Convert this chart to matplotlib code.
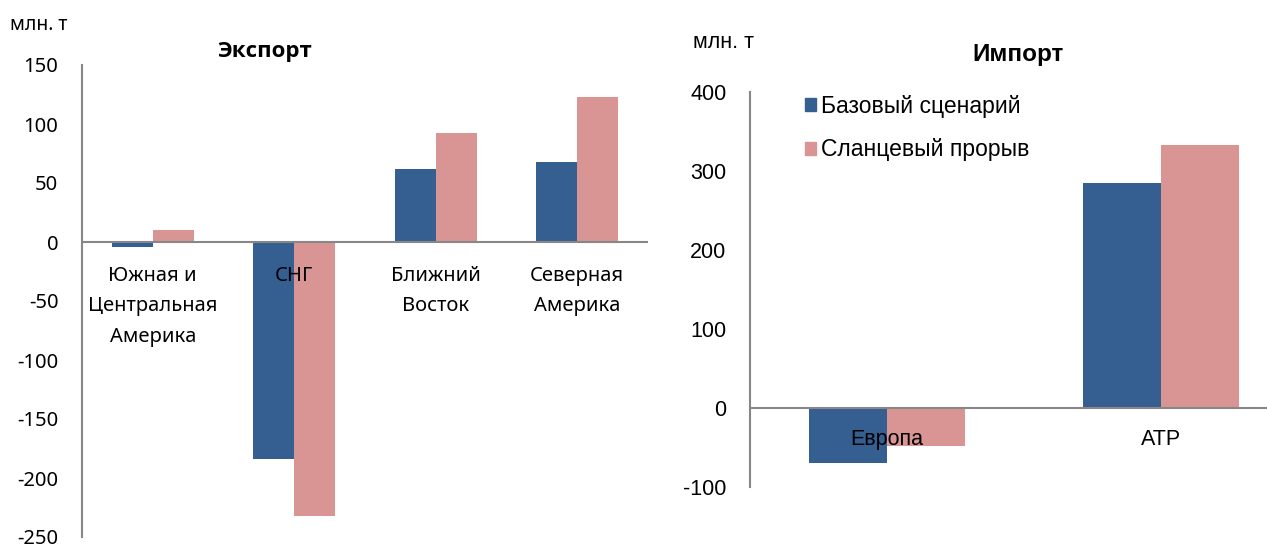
import matplotlib
matplotlib.use('Agg')
import matplotlib.pyplot as plt
from matplotlib.patches import Patch
import numpy as np

plt.rcParams['axes.unicode_minus'] = False

# data, million tonnes
exp_regions = ['Южная и\nЦентральная\nАмерика', 'СНГ', 'Ближний\nВосток', 'Северная\nАмерика']
exp_base = [-4, -184, 62, 68]
exp_shale = [10, -232, 92, 123]

imp_regions = ['Европа', 'АТР']
imp_base = [-70, 285]
imp_shale = [-48, 333]

series_names = ['Базовый сценарий', 'Сланцевый прорыв']
blue = '#365F91'
pink = '#D99594'
grey = '#878787'

W, H = 1267, 549
fig = plt.figure(figsize=(W / 100, H / 100), dpi=100)

def px_axes(x0, x1, ytop, ybot):
    return fig.add_axes([x0 / W, 1 - ybot / H, (x1 - x0) / W, (ybot - ytop) / H])

def style(ax, pad):
    for s in ['top', 'right', 'bottom']:
        ax.spines[s].set_visible(False)
    ax.spines['left'].set_color(grey)
    ax.spines['left'].set_linewidth(1.5)
    ax.tick_params(axis='y', length=0, pad=pad)
    ax.set_xticks([])
    ax.axhline(0, color=grey, lw=1.5, zorder=3)

# --- Export
f_left = 'Noto Sans'
ax1 = px_axes(82, 648, 65, 537)
x = np.arange(len(exp_regions))
bw = 0.29
ax1.bar(x - bw / 2, exp_base, bw, color=blue, zorder=2)
ax1.bar(x + bw / 2, exp_shale, bw, color=pink, zorder=2)
ax1.set_xlim(-0.5, 3.5)
ax1.set_ylim(-250, 150)
ax1.set_yticks(range(-250, 151, 50))
style(ax1, 17)
for lab in ax1.get_yticklabels():
    lab.set_fontfamily(f_left)
    lab.set_fontsize(14.5)
for i, r in enumerate(exp_regions):
    ax1.annotate(r, (x[i], 0), xytext=(0, -17), textcoords='offset points',
                 ha='center', va='top', fontsize=14.5, family=f_left,
                 linespacing=1.72, zorder=4)
fig.text(10 / W, 1 - 25 / H, 'млн. т', fontsize=14, family=f_left, va='center')
fig.text(265 / W, 1 - 52 / H, 'Экспорт', fontsize=16, weight='bold',
         family='Open Sans', ha='center', va='center')

# --- Import
f_right = 'Liberation Sans'
ax2 = px_axes(750, W, 92, 487)
x2 = np.arange(len(imp_regions))
bw2 = 0.285
ax2.bar(x2 - bw2 / 2, imp_base, bw2, color=blue, zorder=2)
ax2.bar(x2 + bw2 / 2, imp_shale, bw2, color=pink, zorder=2)
ax2.set_xlim(-0.5, -0.5 + (W - 750) / 274)
ax2.set_ylim(-100, 400)
ax2.set_yticks(range(-100, 401, 100))
style(ax2, 17)
for lab in ax2.get_yticklabels():
    lab.set_fontfamily(f_right)
    lab.set_fontsize(15.5)
for i, r in enumerate(imp_regions):
    ax2.annotate(r, (x2[i], 0), xytext=(0, -15), textcoords='offset points',
                 ha='center', va='top', fontsize=15.5, family=f_right, zorder=4)
fig.text(693 / W, 1 - 42 / H, 'млн. т', fontsize=15.5, family=f_right, va='center')
fig.text(1018 / W, 1 - 55 / H, 'Импорт', fontsize=17.5, weight='bold',
         family=f_right, ha='center', va='center')

handles = [Patch(color=blue), Patch(color=pink)]
ax2.legend(handles, series_names, loc='upper left', bbox_to_anchor=(0.066, 1.045),
           frameon=False, handlelength=0.5, handleheight=0.5, handletextpad=0.2,
           labelspacing=0.9, prop={'family': f_right, 'size': 16.5})

fig.savefig('out.png', dpi=100)
